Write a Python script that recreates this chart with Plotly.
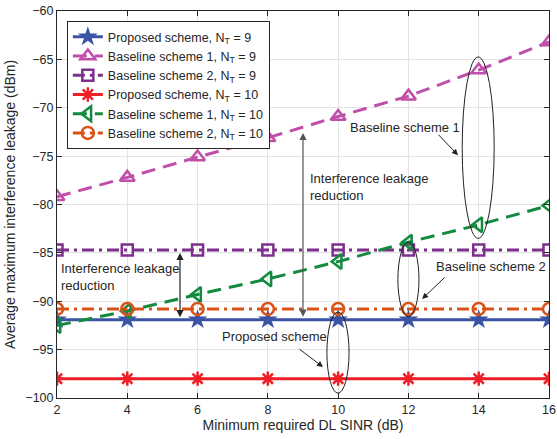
import plotly.graph_objects as go

sinr = [2, 4, 6, 8, 10, 12, 14, 16]
prop_9 = [-91.9] * 8
base1_9 = [-79.2, -77.2, -75.1, -73.1, -70.9, -68.8, -66.1, -63.2]
base2_9 = [-84.7] * 8
prop_10 = [-98.0] * 8
base1_10 = [-92.5, -91.0, -89.3, -87.7, -85.9, -83.9, -82.1, -80.1]
base2_10 = [-90.8] * 8

FONT = "Liberation Sans, Arial, sans-serif"

DASH = "14px,8px"
DASHDOT = "12px,5px,3px,5px"

series = [
    ("Proposed scheme, N<sub>T</sub> = 9", prop_9, "#3A53A4", "solid", "star", 15, False),
    ("Baseline scheme 1, N<sub>T</sub> = 9", base1_9, "#C04FAA", DASH, "triangle-up-open", 13, True),
    ("Baseline scheme 2, N<sub>T</sub> = 9", base2_9, "#7E2F8E", DASHDOT, "square-open", 11, True),
    ("Proposed scheme, N<sub>T</sub> = 10", prop_10, "#EE1F26", "solid", "asterisk-open", 12, True),
    ("Baseline scheme 1, N<sub>T</sub> = 10", base1_10, "#138A3E", DASH, "triangle-left-open", 13, True),
    ("Baseline scheme 2, N<sub>T</sub> = 10", base2_10, "#D95319", DASHDOT, "circle-open", 12, True),
]

fig = go.Figure()
for name, ys, col, dash, sym, size, open_ in series:
    fig.add_trace(go.Scatter(
        x=sinr, y=ys, name=name, mode="lines+markers",
        line=dict(color=col, width=3, dash=dash),
        marker=dict(symbol=sym, size=size, color=col,
                    line=dict(color=col, width=2.5 if open_ else 0)),
    ))

# ellipses
ell_line = dict(color="#222222", width=1)
fig.add_shape(type="circle", xref="x", yref="y", x0=13.53, x1=14.44, y0=-83.5, y1=-64.75, line=ell_line)
fig.add_shape(type="circle", xref="x", yref="y", x0=11.70, x1=12.30, y0=-91.6, y1=-83.9, line=ell_line)
fig.add_shape(type="circle", xref="x", yref="y", x0=9.68, x1=10.31, y0=-99.5, y1=-91.1, line=ell_line)

afont = dict(family=FONT, size=13, color="#262626")
ann = []
ann.append(dict(x=10.28, y=-72.0, text="Baseline scheme 1", showarrow=False, xanchor="left", yanchor="middle", font=afont))
ann.append(dict(x=13.41, y=-74.9, ax=-21, ay=-22, text="", showarrow=True, arrowhead=2, arrowsize=1.2, arrowwidth=1, arrowcolor="#222"))
ann.append(dict(x=12.73, y=-86.36, text="Baseline scheme 2", showarrow=False, xanchor="left", yanchor="middle", font=afont))
ann.append(dict(x=12.39, y=-89.77, ax=24, ay=-23, text="", showarrow=True, arrowhead=2, arrowsize=1.2, arrowwidth=1, arrowcolor="#222"))
ann.append(dict(x=6.64, y=-93.6, text="Proposed scheme", showarrow=False, xanchor="left", yanchor="middle", font=afont))
ann.append(dict(x=9.57, y=-96.8, ax=-25, ay=-19, text="", showarrow=True, arrowhead=2, arrowsize=1.2, arrowwidth=1, arrowcolor="#222"))
ann.append(dict(x=9.14, y=-78.2, text="Interference leakage<br>reduction", showarrow=False, xanchor="left", yanchor="middle", align="left", font=afont))
ann.append(dict(x=2.06, y=-87.5, text="Interference leakage<br>reduction", showarrow=False, xanchor="left", yanchor="middle", align="left", font=afont))
# double arrows
ann.append(dict(x=9.0, y=-72.6, ax=9.0, ay=-91.75, axref="x", ayref="y", text="", showarrow=True,
                arrowhead=2, startarrowhead=2, arrowside="end+start", arrowsize=1.2, arrowwidth=1.2, arrowcolor="#555"))
ann.append(dict(x=5.5, y=-85.0, ax=5.5, ay=-91.8, axref="x", ayref="y", text="", showarrow=True,
                arrowhead=2, startarrowhead=2, arrowside="end+start", arrowsize=1.2, arrowwidth=1.2, arrowcolor="#222"))

axis_common = dict(
    showline=True, linecolor="#262626", linewidth=1, mirror="ticks",
    ticks="inside", ticklen=5, tickcolor="#262626",
    showgrid=True, gridcolor="#E3E3E3", gridwidth=1, zeroline=False,
    tickfont=dict(family=FONT, size=12.5, color="#262626"),
    automargin=False,
)

fig.update_layout(
    width=557, height=439,
    margin=dict(l=57, r=8, t=11, b=41),
    paper_bgcolor="white", plot_bgcolor="white",
    font=dict(family=FONT, size=12.5, color="#262626"),
    xaxis=dict(range=[2, 16], tickvals=sinr, title=dict(text="Minimum required DL SINR (dB)", font=dict(size=14), standoff=4), **axis_common),
    yaxis=dict(range=[-100, -60], dtick=5, title=dict(text="Average maximum interference leakage (dBm)", font=dict(size=14), standoff=6), **axis_common),
    legend=dict(x=0.02, y=0.974, xanchor="left", yanchor="top", bgcolor="white",
                bordercolor="#262626", borderwidth=1, font=dict(family=FONT, size=12.5, color="#262626"),
                tracegroupgap=0, itemwidth=30),
    annotations=ann,
    showlegend=True,
)

fig.write_html("out.html", config={"displayModeBar": False},
               post_script="document.body.style.margin='0';document.body.style.overflow='hidden';")
